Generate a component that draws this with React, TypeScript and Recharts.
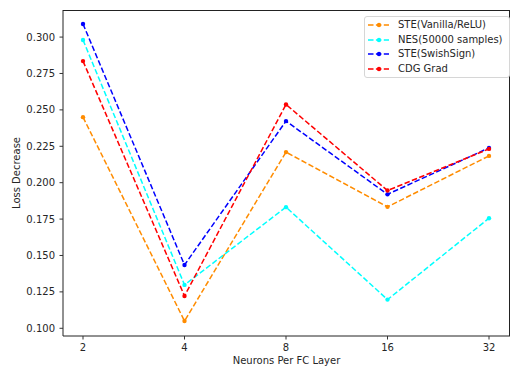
import React from 'react';
import { LineChart, Line, XAxis, YAxis } from 'recharts';

const categories = ['2', '4', '8', '16', '32'];
const steVanilla = [0.245, 0.105, 0.221, 0.1834, 0.2184];
const nes = [0.298, 0.1298, 0.1832, 0.1197, 0.1756];
const steSwish = [0.309, 0.1435, 0.2423, 0.192, 0.2239];
const cdg = [0.2835, 0.1222, 0.2537, 0.1946, 0.2232];
const yTicks = [0.1, 0.125, 0.15, 0.175, 0.2, 0.225, 0.25, 0.275, 0.3];

const seriesNames = ['STE(Vanilla/ReLU)', 'NES(50000 samples)', 'STE(SwishSign)', 'CDG Grad'];
const seriesColors = ['#FF8C00', '#00FFFF', '#0000FF', '#FF0000'];
const seriesKeys = ['steVanilla', 'nes', 'steSwish', 'cdg'];

const data = categories.map((c, i) => ({
  x: c,
  steVanilla: steVanilla[i],
  nes: nes[i],
  steSwish: steSwish[i],
  cdg: cdg[i],
}));

const FONT = 'DejaVu Sans, sans-serif';
const TXT = '#262626';

const LegendBox = () => (
  <div
    style={{
      position: 'absolute',
      left: 364,
      top: 16,
      border: '1px solid #d6d6d6',
      borderRadius: 3,
      background: '#fff',
      padding: '1px 6px 1px 1px',
      fontFamily: FONT,
      fontSize: 10,
      color: TXT,
      lineHeight: '14.6px',
    }}
  >
    {seriesNames.map((n, i) => (
      <div key={n} style={{ display: 'flex', alignItems: 'center', whiteSpace: 'nowrap' }}>
        <svg width={30} height={10} style={{ marginRight: 2 }}>
          <line x1={2} y1={5} x2={23} y2={5} stroke={seriesColors[i]} strokeWidth={1.5} strokeDasharray="5.5 2.4" />
          <circle cx={13} cy={5} r={2.2} fill={seriesColors[i]} />
        </svg>
        <span>{n}</span>
      </div>
    ))}
  </div>
);

export default function App() {
  return (
    <div style={{ position: 'absolute', left: 0, top: 0, width: 530, height: 372, background: '#fff' }}>
      <LineChart width={530} height={372} data={data} margin={{ top: 10, right: 20, bottom: 0, left: 0 }}>
        <XAxis
          dataKey="x"
          type="category"
          padding={{ left: 20, right: 21 }}
          height={36}
          tickSize={3.5}
          tickMargin={4}
          stroke="#000"
          tick={{ fill: TXT, fontSize: 10, fontFamily: FONT }}
          tickLine={{ stroke: '#333' }}
          axisLine={{ stroke: '#222', strokeWidth: 1 }}
          label={{
            content: ({ viewBox }: any) => (
              <text
                x={viewBox.x + viewBox.width / 2}
                y={364}
                textAnchor="middle"
                fontSize={10}
                fontFamily={FONT}
                fill={TXT}
              >
                Neurons Per FC Layer
              </text>
            ),
          }}
        />
        <YAxis
          type="number"
          domain={[0.0947, 0.3186]}
          ticks={yTicks}
          allowDataOverflow
          width={63}
          tickSize={3.5}
          tickMargin={4.5}
          tickFormatter={(v: number) => v.toFixed(3)}
          tick={{ fill: TXT, fontSize: 10, fontFamily: FONT }}
          tickLine={{ stroke: '#333' }}
          axisLine={{ stroke: '#222', strokeWidth: 1 }}
          label={{
            content: () => (
              <text
                x={0}
                y={0}
                transform="translate(20,173) rotate(-90)"
                textAnchor="middle"
                fontSize={10}
                fontFamily={FONT}
                fill={TXT}
              >
                Loss Decrease
              </text>
            ),
          }}
        />
        {seriesKeys.map((k, i) => (
          <Line
            key={k}
            dataKey={k}
            name={seriesNames[i]}
            stroke={seriesColors[i]}
            strokeWidth={1.5}
            strokeDasharray="5.5 2.4"
            dot={{ r: 2.2, fill: seriesColors[i], stroke: seriesColors[i], strokeWidth: 0 }}
            activeDot={false}
            isAnimationActive={false}
          />
        ))}
      </LineChart>
      <div
        style={{
          position: 'absolute',
          left: 63,
          top: 10,
          width: 447,
          height: 326,
          borderTop: '1px solid #222',
          borderRight: '1px solid #222',
          boxSizing: 'border-box',
          pointerEvents: 'none',
        }}
      />
      <LegendBox />
    </div>
  );
}
